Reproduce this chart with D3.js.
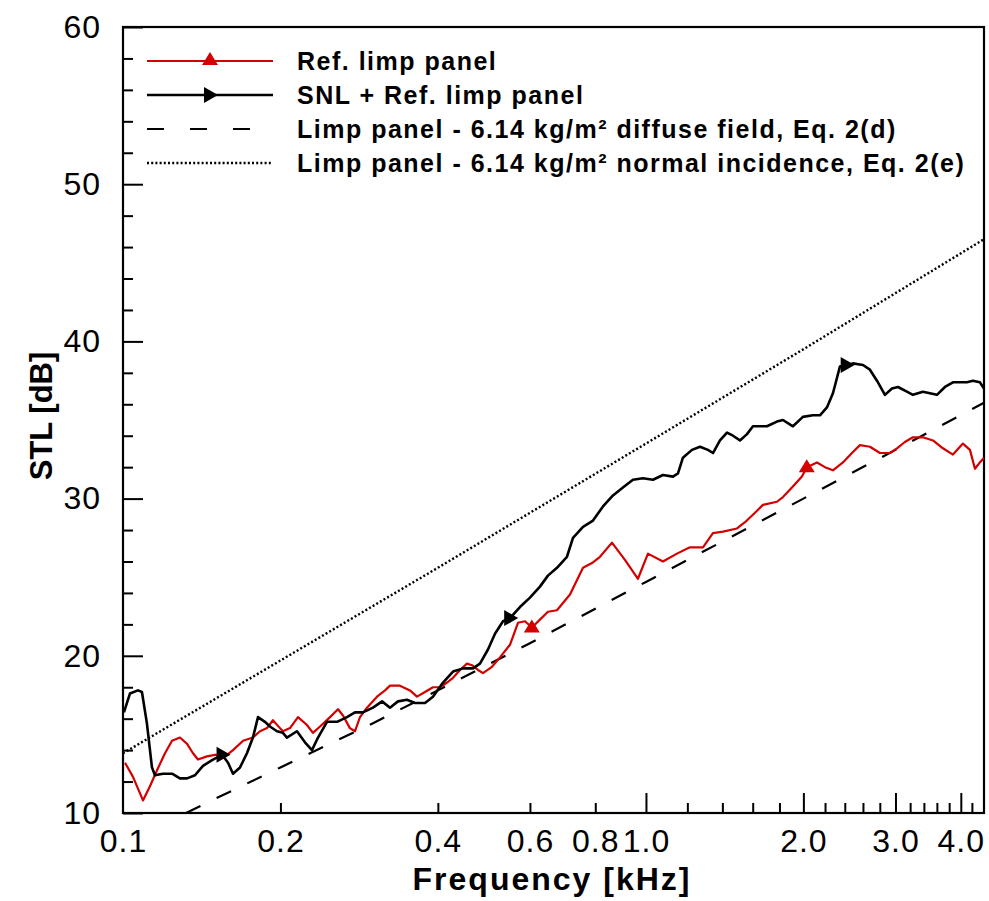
<!DOCTYPE html>
<html>
<head>
<meta charset="utf-8">
<script src="https://cdn.jsdelivr.net/npm/d3@7"></script>
<style>
  body { margin: 0; background: #fff; }
  svg { display: block; }
  text { font-family: "Liberation Sans", Arial, Helvetica, sans-serif; fill: #000; }
</style>
</head>
<body>
<div id="chart"></div>
<script>
// values (frequency in kHz, STL in dB)
var refFreq = [0.1009,0.1045,0.1092,0.1126,0.1161,0.1203,0.1241,0.1285,0.1326,0.1361,
  0.1391,0.1447,0.1500,0.1581,0.1623,0.1697,0.1772,0.1828,0.1885,0.1935,
  0.1996,0.2022,0.2086,0.2161,0.2248,0.2308,0.2381,0.2488,0.2577,0.2634,
  0.2716,0.2777,0.2839,0.2928,0.3060,0.3170,0.3240,0.3385,0.3538,0.3649,
  0.3780,0.3915,0.4038,0.4165,0.4276,0.4410,0.4547,0.4649,0.4773,0.4879,
  0.5076,0.5258,0.5495,0.5692,0.5870,0.6053,0.6270,0.6495,0.6758,0.7157,
  0.7579,0.7885,0.8167,0.8610,0.9116,0.9654,1.0088,1.0777,1.1463,1.2138,
  1.2853,1.3432,1.4036,1.4931,1.5466,1.6159,1.6737,1.7801,1.8279,1.9017,
  1.9870,2.0312,2.1232,2.1992,2.2780,2.3806,2.4767,2.5656,2.6810,2.8017,
  2.9278,3.0196,3.1270,3.2393,3.3852,3.5382,3.6975,3.8637,4.0375,4.1641,
  4.2569,4.3502,4.43];
var refStl = [13.2,12.3,10.8,11.7,12.7,13.8,14.6,14.8,14.4,13.8,
  13.4,13.6,13.7,13.7,14.0,14.6,14.8,15.2,15.4,15.9,
  15.4,15.2,15.4,16.1,15.6,15.1,15.5,16.1,16.6,16.2,
  15.4,15.2,16.1,16.7,17.4,17.8,18.1,18.1,17.8,17.4,
  17.7,18.0,18.0,18.3,18.6,19.1,19.5,19.4,19.1,18.9,
  19.3,19.9,20.7,22.1,22.2,21.8,22.3,22.8,22.9,23.9,
  25.6,25.9,26.3,27.2,26.1,24.9,26.5,26.0,26.5,26.9,
  26.9,27.8,27.9,28.1,28.5,29.1,29.6,29.8,30.1,30.7,
  31.4,32.0,32.3,32.0,31.8,32.3,32.9,33.4,33.3,32.9,
  32.9,33.2,33.6,33.9,33.9,33.7,33.2,32.8,33.5,33.1,
  31.9,32.3,32.6];

var snlFreq = [0.1004,0.1031,0.1068,0.1087,0.1111,0.1136,0.1151,0.1192,0.1241,0.1285,
  0.1326,0.1373,0.1422,0.1486,0.1547,0.1588,0.1623,0.1674,0.1726,0.1772,
  0.1812,0.1868,0.1910,0.1970,0.2022,0.2058,0.2151,0.2228,0.2298,0.2360,
  0.2455,0.2566,0.2681,0.2777,0.2876,0.3006,0.3129,0.3240,0.3356,0.3491,
  0.3617,0.3780,0.3915,0.4092,0.4276,0.4469,0.4669,0.4815,0.4988,0.5144,
  0.5329,0.5495,0.5742,0.6001,0.6270,0.6495,0.6758,0.7062,0.7252,0.7579,
  0.7920,0.8276,0.8648,0.9036,0.9443,0.9869,1.0313,1.0777,1.1262,1.1514,
  1.1768,1.2244,1.2686,1.3137,1.3432,1.3853,1.4287,1.4669,1.5128,1.5603,
  1.6018,1.7036,1.7801,1.8279,1.9101,1.9958,2.0856,2.1513,2.2185,2.2780,
  2.3490,2.4226,2.4876,2.5996,2.6810,2.7651,2.8642,2.9539,3.0330,3.1548,
  3.2393,3.3852,3.4914,3.6008,3.7301,3.8637,4.1095,4.2193,4.3502,4.43];
var snlStl = [16.4,17.6,17.8,17.7,15.7,12.9,12.4,12.5,12.5,12.2,
  12.2,12.4,13.0,13.4,13.7,13.2,12.5,12.9,13.8,14.8,
  16.1,15.8,15.5,15.2,15.1,14.8,15.2,14.5,14.0,14.8,
  15.8,15.8,16.1,16.4,16.4,16.7,17.1,16.7,17.1,17.2,
  17.0,17.0,17.4,18.3,19.0,19.2,19.2,19.5,20.4,21.4,
  22.2,22.4,23.1,23.7,24.4,25.1,25.6,26.3,27.5,28.2,
  28.6,29.5,30.2,30.7,31.2,31.3,31.2,31.5,31.4,31.6,
  32.6,33.1,33.3,33.1,32.9,33.7,34.2,34.0,33.7,34.1,
  34.6,34.6,34.9,35.0,34.6,35.2,35.3,35.3,35.8,36.7,
  38.4,38.5,38.6,38.5,38.2,37.5,36.6,37.0,37.1,36.8,
  36.6,36.8,36.7,36.6,37.1,37.4,37.4,37.5,37.4,37.0];

var diffuseFreq = [0.132,0.15,0.2,0.3,0.4,0.6,1.0,1.5,2.0,3.0,4.43];
var diffuseStl = [10.0,10.9,12.9,15.7,17.8,20.8,24.7,27.8,30.0,33.1,36.1];

var normalFreq = [0.1,0.2,0.4,1.0,2.0,4.43];
var normalStl = [13.8,19.7,25.6,33.5,39.5,46.5];

var refMarkFreq = [0.605,2.03];
var refMarkStl = [21.8,32.0];
var snlMarkFreq = [0.155,0.55,2.42];
var snlMarkStl = [13.7,22.4,38.5];

var xLabelTicks = [0.1,0.2,0.4,0.6,0.8,1.0,2.0,3.0,4.0];
var xMajorTicks = [1,2,3,4];
var xMinorTicks = [0.2,0.4,0.6,0.8,1.2,1.4,1.6,1.8,2.2,2.4,2.6,2.8,3.2,3.4,3.6,3.8,4.2];
var yMajorTicks = [10,20,30,40,50,60];
var yMinorTicks = [12,14,16,18,22,24,26,28,32,34,36,38,42,44,46,48,52,54,56,58];

var legendLabels = [
  "Ref. limp panel",
  "SNL + Ref. limp panel",
  "Limp panel - 6.14 kg/m\u00b2 diffuse field, Eq. 2(d)",
  "Limp panel - 6.14 kg/m\u00b2 normal incidence, Eq. 2(e)"
];

var W = 989, H = 901;
var pLeft = 123, pRight = 984, pTop = 27, pBottom = 813;
var red = "#d40000";

var svg = d3.select("#chart").append("svg")
  .attr("width", W)
  .attr("height", H);

var x = d3.scaleLog().domain([0.1, 4.43]).range([pLeft, pRight]);
var y = d3.scaleLinear().domain([10, 60]).range([pBottom, pTop]);

function zip(a, b) { return a.map(function(d, i) { return [d, b[i]]; }); }

// clip for curves
svg.append("clipPath").attr("id", "plotclip")
  .append("rect")
  .attr("x", pLeft).attr("y", pTop)
  .attr("width", pRight - pLeft).attr("height", pBottom - pTop);

// axes
var tickStyle = function(g) {
  g.select(".domain").remove();
  g.selectAll("line").attr("stroke", "#000").attr("stroke-width", 2);
};

svg.append("g").attr("transform", "translate(0," + pBottom + ")")
  .call(d3.axisBottom(x).tickValues(xMajorTicks).tickSize(-20).tickFormat(""))
  .call(tickStyle);
svg.append("g").attr("transform", "translate(0," + pBottom + ")")
  .call(d3.axisBottom(x).tickValues(xMinorTicks).tickSize(-10).tickFormat(""))
  .call(tickStyle);
var xl = svg.append("g").attr("transform", "translate(0," + pBottom + ")")
  .call(d3.axisBottom(x).tickValues(xLabelTicks).tickSize(0).tickPadding(16)
    .tickFormat(d3.format(".1f")));
xl.select(".domain").remove();
xl.selectAll("text")
  .style("font-size", "32px")
  .style("letter-spacing", "1px")
  .style("font-family", "'Liberation Sans', Arial, sans-serif")
  .attr("fill", "#000");

svg.append("g").attr("transform", "translate(" + pLeft + ",0)")
  .call(d3.axisLeft(y).tickValues(yMinorTicks).tickSize(-10).tickFormat(""))
  .call(tickStyle);
var yl = svg.append("g").attr("transform", "translate(" + pLeft + ",0)")
  .call(d3.axisLeft(y).tickValues(yMajorTicks).tickSize(-20).tickPadding(22))
  .call(tickStyle);
yl.selectAll("text")
  .style("font-size", "32px")
  .style("letter-spacing", "1px")
  .style("font-family", "'Liberation Sans', Arial, sans-serif")
  .attr("fill", "#000");

// frame
svg.append("rect")
  .attr("x", pLeft).attr("y", pTop)
  .attr("width", pRight - pLeft).attr("height", pBottom - pTop)
  .attr("fill", "none").attr("stroke", "#000").attr("stroke-width", 2.2);

// axis titles
svg.append("text")
  .attr("x", 552).attr("y", 890)
  .attr("text-anchor", "middle")
  .style("font-size", "32px").style("font-weight", "bold")
  .style("letter-spacing", "2px")
  .text("Frequency [kHz]");

svg.append("text")
  .attr("transform", "translate(52,416) rotate(-90)")
  .attr("text-anchor", "middle")
  .style("font-size", "31px").style("font-weight", "bold")
  .text("STL [dB]");

// curves
var line = d3.line().x(function(d) { return x(d[0]); }).y(function(d) { return y(d[1]); });
var plot = svg.append("g").attr("clip-path", "url(#plotclip)");

plot.append("path").datum(zip(normalFreq, normalStl))
  .attr("d", line).attr("fill", "none")
  .attr("stroke", "#000").attr("stroke-width", 2.4)
  .attr("stroke-dasharray", "2,2.2");

plot.append("path").datum(zip(diffuseFreq, diffuseStl))
  .attr("d", line).attr("fill", "none")
  .attr("stroke", "#000").attr("stroke-width", 2.2)
  .attr("stroke-dasharray", "16,18");

plot.append("path").datum(zip(refFreq, refStl))
  .attr("d", line).attr("fill", "none")
  .attr("stroke", red).attr("stroke-width", 2.2)
  .attr("stroke-linejoin", "round");

plot.append("path").datum(zip(snlFreq, snlStl))
  .attr("d", line).attr("fill", "none")
  .attr("stroke", "#000").attr("stroke-width", 2.6)
  .attr("stroke-linejoin", "round");

// markers
var upTri = "M0,-8L8,5L-8,5Z";
var rightTri = "M-6,-8L8,0L-6,8Z";

plot.selectAll(".refmark").data(zip(refMarkFreq, refMarkStl)).enter()
  .append("path").attr("class", "refmark")
  .attr("d", upTri).attr("fill", red)
  .attr("transform", function(d) { return "translate(" + x(d[0]) + "," + y(d[1]) + ")"; });

plot.selectAll(".snlmark").data(zip(snlMarkFreq, snlMarkStl)).enter()
  .append("path").attr("class", "snlmark")
  .attr("d", rightTri).attr("fill", "#000")
  .attr("transform", function(d) { return "translate(" + x(d[0]) + "," + y(d[1]) + ")"; });

// legend
var leg = svg.append("g");
var lx0 = 147, lx1 = 273, rowH = 34, row0 = 61;
var legStyles = [
  { stroke: red, dash: null, w: 2.2 },
  { stroke: "#000", dash: null, w: 2.6 },
  { stroke: "#000", dash: "17,26", w: 2.2 },
  { stroke: "#000", dash: "2,2.2", w: 2.4 }
];
legendLabels.forEach(function(lbl, i) {
  var ly = row0 + i * rowH;
  leg.append("line")
    .attr("x1", lx0).attr("x2", lx1).attr("y1", ly).attr("y2", ly)
    .attr("stroke", legStyles[i].stroke)
    .attr("stroke-width", legStyles[i].w)
    .attr("stroke-dasharray", legStyles[i].dash);
  leg.append("text")
    .attr("x", 297).attr("y", ly + 9)
    .style("font-size", "25px").style("font-weight", "bold")
    .style("letter-spacing", "1.5px")
    .text(lbl);
});
leg.append("path").attr("d", upTri).attr("fill", red)
  .attr("transform", "translate(210," + (row0 - 1) + ")");
leg.append("path").attr("d", rightTri).attr("fill", "#000")
  .attr("transform", "translate(210," + (row0 + rowH) + ")");
</script>
</body>
</html>
